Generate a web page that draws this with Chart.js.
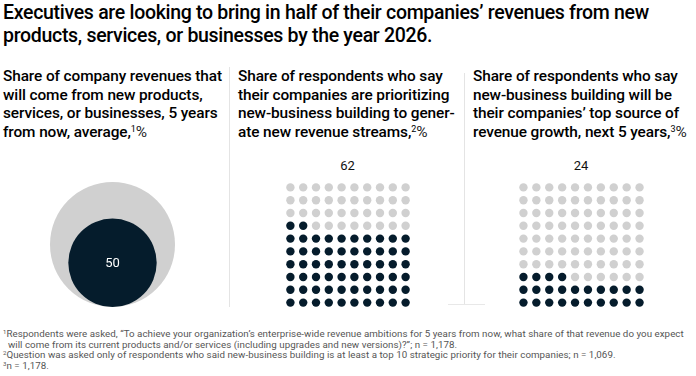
<!DOCTYPE html>
<html><head><meta charset="utf-8">
<script src="https://cdn.jsdelivr.net/npm/chart.js@4"></script>
<style>
body{margin:0;width:696px;height:376px;background:#fff;position:relative;overflow:hidden;font-family:Roboto,"Liberation Sans",sans-serif;color:#000}
.abs{position:absolute;white-space:nowrap}
#title{left:3px;top:2px;font-size:19.5px;line-height:22.5px;font-weight:500;letter-spacing:-0.3px}
.head{top:67px;font-size:15.4px;line-height:18.7px;font-weight:500;letter-spacing:-0.1px}
.head .n{font-weight:400;color:#222}
.head sup{font-size:9px;font-weight:400;vertical-align:5px;line-height:0}
.vline{position:absolute;width:1px;background:#e4e4e4}
.hline{position:absolute;height:1px;background:#e8e8e8}
.val{font-size:13px;top:158px;width:60px;text-align:center;color:#111}
#foot{left:3px;top:329px;font-size:9.75px;line-height:10.7px;color:#555;letter-spacing:0.04px}
#foot sup{font-size:6px;vertical-align:3px;line-height:0}
canvas{position:absolute}
</style></head>
<body>
<div id="title" class="abs">Executives are looking to bring in half of their companies’ revenues from new<br>products, services, or businesses by the year 2026.</div>

<div class="abs head" style="left:3px">Share of company revenues that<br>will come from new products,<br>services, or businesses, 5 years<br>from now, average,<sup>1</sup><span class="n">%</span></div>
<div class="abs head" style="left:238px">Share of respondents who say<br>their companies are prioritizing<br>new-business building to gener-<br>ate new revenue streams,<sup>2</sup><span class="n">%</span></div>
<div class="abs head" style="left:473px">Share of respondents who say<br>new-business building will be<br>their companies’ top source of<br>revenue growth, next 5 years,<sup>3</sup><span class="n">%</span></div>

<div class="vline" style="left:229px;top:67px;height:240px"></div>
<div class="vline" style="left:464px;top:73px;height:232px"></div>
<div class="hline" style="left:448px;top:304px;width:37px"></div>

<div id="lab2" class="abs val" style="left:317.5px"></div>
<div id="lab3" class="abs val" style="left:551px"></div>

<canvas id="c1" width="219" height="160" style="left:3px;top:147px"></canvas>
<canvas id="c2" width="128" height="128" style="left:284px;top:181px"></canvas>
<canvas id="c3" width="129" height="128" style="left:517px;top:181px"></canvas>

<div id="foot" class="abs"><sup>1</sup>Respondents were asked, “To achieve your organization’s enterprise-wide revenue ambitions for 5 years from now, what share of that revenue do you expect<br>&nbsp;&nbsp;will come from its current products and/or services (including upgrades and new versions)?”; n = 1,178.<br><sup>2</sup>Question was asked only of respondents who said new-business building is at least a top 10 strategic priority for their companies; n = 1,069.<br><sup>3</sup>n = 1,178.</div>

<script>
// ---- data ----
const circleLabels = ['All revenues', 'From new products, services, or businesses'];
const circleValues = [100, 50];
const prioritizingValue = 62;
const topSourceValue = 24;
const gridCols = 10;
const gridRows = 10;

const NAVY = '#051c2c';
const GRAY = '#d0d0d0';
const OUTER_R = 62.5;

// panel 1: nested area-proportional circles, bottoms aligned
const radii = circleValues.map(v => OUTER_R * Math.sqrt(v / circleValues[0]));
const circleData = radii.map(r => ({ x: 0.5, y: r }));
const centerLabel = {
  id: 'centerLabel',
  afterDatasetsDraw(chart) {
    const el = chart.getDatasetMeta(0).data[1];
    const ctx = chart.ctx;
    ctx.save();
    ctx.fillStyle = '#fff';
    ctx.font = '13px Roboto, "Liberation Sans", sans-serif';
    ctx.textAlign = 'center';
    ctx.textBaseline = 'middle';
    ctx.fillText(String(circleValues[1]), el.x, el.y + 1);
    ctx.restore();
  }
};
const base = {
  responsive: false, animation: false,
  layout: { padding: 0, autoPadding: false },
  plugins: { legend: { display: false }, tooltip: { enabled: false } },
  events: []
};
new Chart(document.getElementById('c1'), {
  type: 'scatter',
  data: { labels: circleLabels, datasets: [{
    data: circleData,
    backgroundColor: [GRAY, NAVY], pointRadius: radii, pointHoverRadius: radii,
    pointBorderWidth: 0, clip: false
  }]},
  options: Object.assign({}, base, {
    scales: {
      x: { display: false, min: 0, max: 1 },
      y: { display: false, min: 0, max: 160 }
    }
  }),
  plugins: [centerLabel]
});

// waffle grids: filled from bottom row, left to right
function waffle(id, value) {
  const pts = [], cols = [];
  for (let i = 0; i < gridCols * gridRows; i++) {
    pts.push({ x: i % gridCols, y: Math.floor(i / gridCols) });
    cols.push(i < value ? NAVY : GRAY);
  }
  new Chart(document.getElementById(id), {
    type: 'scatter',
    data: { datasets: [{ data: pts, backgroundColor: cols, pointRadius: 4.2, pointBorderWidth: 0, pointHoverRadius: 4.2, clip: false }]},
    options: Object.assign({}, base, {
      scales: {
        x: { display: false, min: -0.5, max: gridCols - 0.5 },
        y: { display: false, min: -0.5, max: gridRows - 0.5 }
      }
    })
  });
}
waffle('c2', prioritizingValue);
waffle('c3', topSourceValue);
document.getElementById('lab2').textContent = prioritizingValue;
document.getElementById('lab3').textContent = topSourceValue;
</script>
</body></html>
